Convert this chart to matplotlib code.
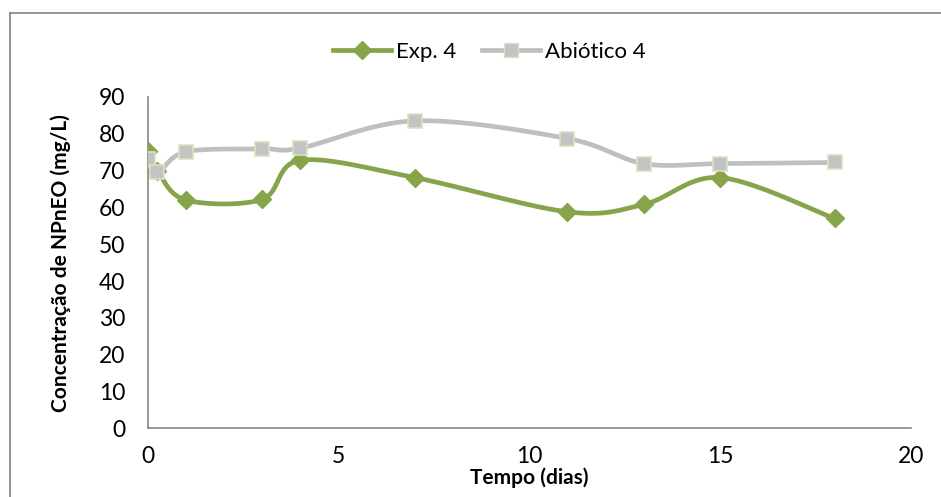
import numpy as np
import matplotlib.pyplot as plt
from matplotlib.lines import Line2D

plt.rcParams['font.family'] = ['Lato', 'DejaVu Sans']

dias = [0, 0.25, 1, 3, 4, 7, 11, 13, 15, 18]
exp4 = [75.2, 70.0, 62.0, 62.2, 72.8, 68.1, 58.8, 60.8, 68.1, 57.0]
abiotico4 = [73.1, 69.5, 75.1, 75.9, 76.1, 83.5, 78.7, 71.9, 71.9, 72.2]

xticks = [0, 5, 10, 15, 20]
yticks = list(range(0, 91, 10))

verde = '#86A44A'
cinza = '#BFBFBF'


def suavizar(x, y, n=40):
    # curva suave tipo Excel (Catmull-Rom em forma de Bezier)
    x = np.asarray(x, float)
    y = np.asarray(y, float)
    px = np.concatenate([[x[0]], x, [x[-1]]])
    py = np.concatenate([[y[0]], y, [y[-1]]])
    xs, ys = [], []
    t = np.linspace(0, 1, n)
    for i in range(1, len(px) - 2):
        p0 = np.array([px[i], py[i]])
        p3 = np.array([px[i + 1], py[i + 1]])
        p1 = p0 + (np.array([px[i + 1], py[i + 1]]) - np.array([px[i - 1], py[i - 1]])) / 6
        p2 = p3 - (np.array([px[i + 2], py[i + 2]]) - np.array([px[i], py[i]])) / 6
        b = ((1 - t) ** 3)[:, None] * p0 + (3 * (1 - t) ** 2 * t)[:, None] * p1 \
            + (3 * (1 - t) * t ** 2)[:, None] * p2 + (t ** 3)[:, None] * p3
        xs.extend(b[:, 0])
        ys.extend(b[:, 1])
    return xs, ys


fig = plt.figure(figsize=(9.41, 4.97), dpi=100)
ax = fig.add_axes([0.157, 0.138, 0.811, 0.667])

sx, sy = suavizar(dias, exp4)
ax.plot(sx, sy, color=verde, lw=3.4, solid_capstyle='round', zorder=2)
ax.plot(dias, exp4, linestyle='none', marker='D', ms=9, color=verde, zorder=3)

sx, sy = suavizar(dias, abiotico4)
ax.plot(sx, sy, color=cinza, lw=3.4, solid_capstyle='round', zorder=4)
ax.plot(dias, abiotico4, linestyle='none', marker='s', ms=10,
        markerfacecolor='#C3C3C3', markeredgecolor='#D7E4BD', markeredgewidth=1.2, zorder=5)

ax.set_xlim(0, 20)
ax.set_ylim(0, 90)
ax.set_xticks(xticks)
ax.set_yticks(yticks)
ax.tick_params(length=0, labelsize=16.5)
ax.tick_params(axis='x', pad=13)
ax.tick_params(axis='y', pad=16)
for lado in ['top', 'right']:
    ax.spines[lado].set_visible(False)
for lado in ['left', 'bottom']:
    ax.spines[lado].set_color('#868686')
    ax.spines[lado].set_linewidth(1.2)

ax.set_xlabel('Tempo (dias)', fontsize=15, fontweight='bold', labelpad=0)
ax.set_ylabel('Concentração de NPnEO (mg/L)', fontsize=15, fontweight='bold', labelpad=20)

handles = [
    Line2D([], [], color=verde, lw=3.4, marker='D', ms=9),
    Line2D([], [], color=cinza, lw=3.4, marker='s', ms=10,
           markerfacecolor='#C3C3C3', markeredgecolor='#D7E4BD'),
]
fig.legend(handles, ['Exp. 4', 'Abiótico 4'], loc='center', bbox_to_anchor=(0.52, 0.895),
           ncol=2, frameon=False, fontsize=16, handlelength=2.6, handletextpad=0.2,
           columnspacing=1.2)

# moldura do gráfico
fig.add_artist(Line2D([10 / 941, 10 / 941], [0, 1 - 13 / 497], color='#8C8C8C', lw=1.3,
                      transform=fig.transFigure))
fig.add_artist(Line2D([10 / 941, 1], [1 - 13 / 497, 1 - 13 / 497], color='#8C8C8C', lw=1.3,
                      transform=fig.transFigure))

fig.savefig('out.png', dpi=100)
